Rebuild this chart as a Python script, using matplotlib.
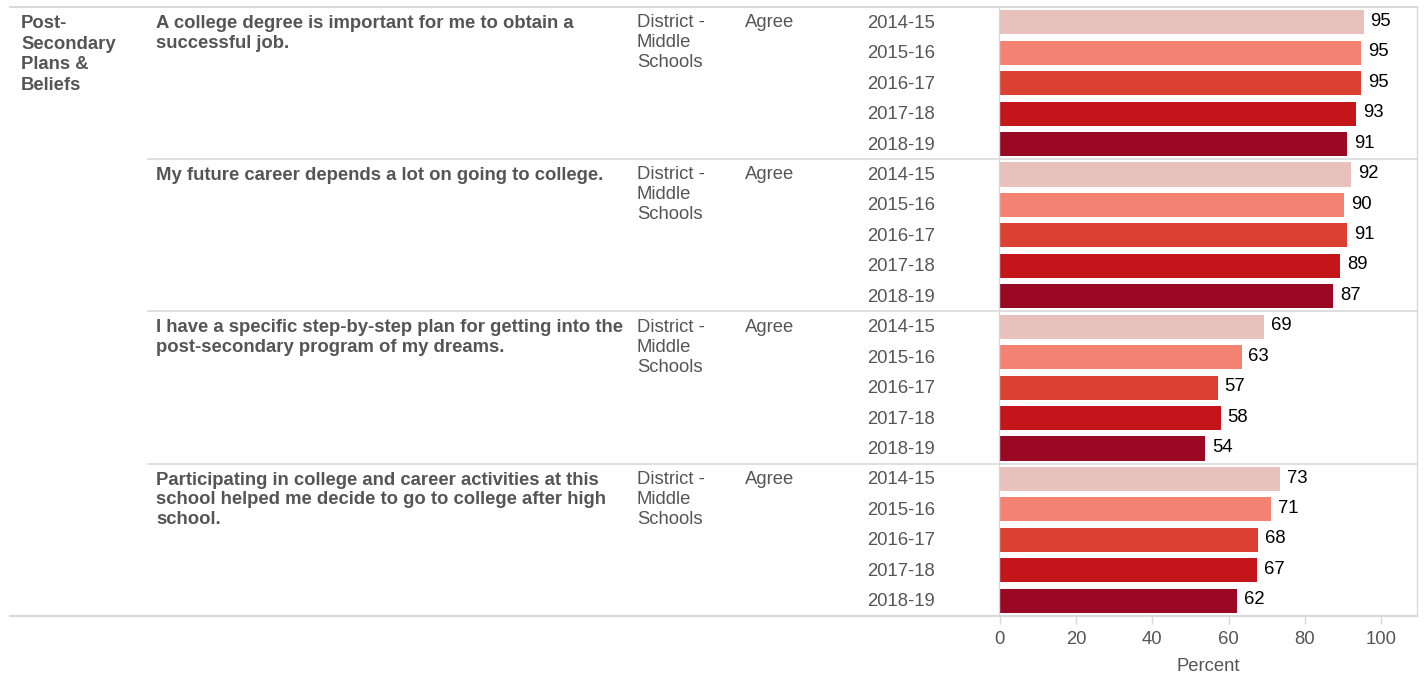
import matplotlib.pyplot as plt
from matplotlib.lines import Line2D

# Data
category = "Post-\nSecondary\nPlans &\nBeliefs"
questions = [
    "A college degree is important for me to obtain a\nsuccessful job.",
    "My future career depends a lot on going to college.",
    "I have a specific step-by-step plan for getting into the\npost-secondary program of my dreams.",
    "Participating in college and career activities at this\nschool helped me decide to go to college after high\nschool.",
]
group = "District -\nMiddle\nSchools"
response = "Agree"
years = ["2014-15", "2015-16", "2016-17", "2017-18", "2018-19"]
values = [
    [95.4, 94.8, 94.8, 93.4, 91.1],
    [92.1, 90.3, 91.1, 89.3, 87.4],
    [69.4, 63.4, 57.1, 57.9, 53.9],
    [73.4, 71.2, 67.8, 67.4, 62.3],
]
labels = [
    [95, 95, 95, 93, 91],
    [92, 90, 91, 89, 87],
    [69, 63, 57, 58, 54],
    [73, 71, 68, 67, 62],
]
colors = ["#E9C1BC", "#F48272", "#DB4032", "#C4161A", "#9A0824"]

W, H = 1426, 679
TXT = "#555555"
GRID = "#D9D9D9"
FS = 13.3
plt.rcParams["font.family"] = ["Liberation Sans", "DejaVu Sans"]

fig = plt.figure(figsize=(W / 100, H / 100), dpi=100)


def fx(px):
    return px / W


def fy(py):
    return 1 - py / H


top, bottom = 7, 616
left, right = 999, 1417
ax = fig.add_axes([fx(left), fy(bottom), fx(right) - fx(left), fy(top) - fy(bottom)])

n_rows = len(questions) * len(years)
row_h = (bottom - top) / n_rows
pos = 0
for qi, q in enumerate(questions):
    for yi, yr in enumerate(years):
        v = values[qi][yi]
        ax.barh(pos, v, height=0.79, color=colors[yi])
        ax.text(v + 1.8, pos - 0.03, f"{labels[qi][yi]}", va="center", ha="left",
                fontsize=FS, color="black")
        # year label
        yc = top + (pos + 0.5) * row_h
        fig.text(fx(867), fy(yc + 1), yr, va="center", ha="left", fontsize=FS, color=TXT)
        pos += 1
    gtop = top + qi * len(years) * row_h
    fig.text(fx(156), fy(gtop + 8), q, va="top", ha="left", fontsize=FS,
             fontweight="bold", color=TXT, linespacing=1.2)
    fig.text(fx(637), fy(gtop + 7), group, va="top", ha="left", fontsize=FS,
             color=TXT, linespacing=1.24)
    fig.text(fx(745), fy(gtop + 7), response, va="top", ha="left", fontsize=FS,
             color=TXT)
    if qi > 0:
        fig.add_artist(Line2D([fx(148), fx(right)], [fy(gtop), fy(gtop)],
                              color=GRID, lw=1.2))

fig.text(fx(21), fy(15), category, va="top", ha="left", fontsize=FS,
         fontweight="bold", color=TXT, linespacing=1.28)

# frame lines
fig.add_artist(Line2D([fx(10), fx(right)], [fy(top), fy(top)], color=GRID, lw=1.5))
fig.add_artist(Line2D([fx(10), fx(right)], [fy(bottom), fy(bottom)], color=GRID, lw=1.5))

ax.set_ylim(n_rows - 0.5, -0.5)
ax.set_xlim(-0.2, 109.4)
ax.set_yticks([])
ax.set_xticks([0, 20, 40, 60, 80, 100])
ax.tick_params(axis="x", colors=GRID, labelcolor=TXT, labelsize=FS, length=6,
               width=1, pad=5)
for side in ["top", "bottom"]:
    ax.spines[side].set_visible(False)
for side in ["left", "right"]:
    ax.spines[side].set_color(GRID)
    ax.spines[side].set_linewidth(1)
ax.set_xlabel("Percent", fontsize=FS, color=TXT, labelpad=7)

fig.savefig("out.png", dpi=100)
